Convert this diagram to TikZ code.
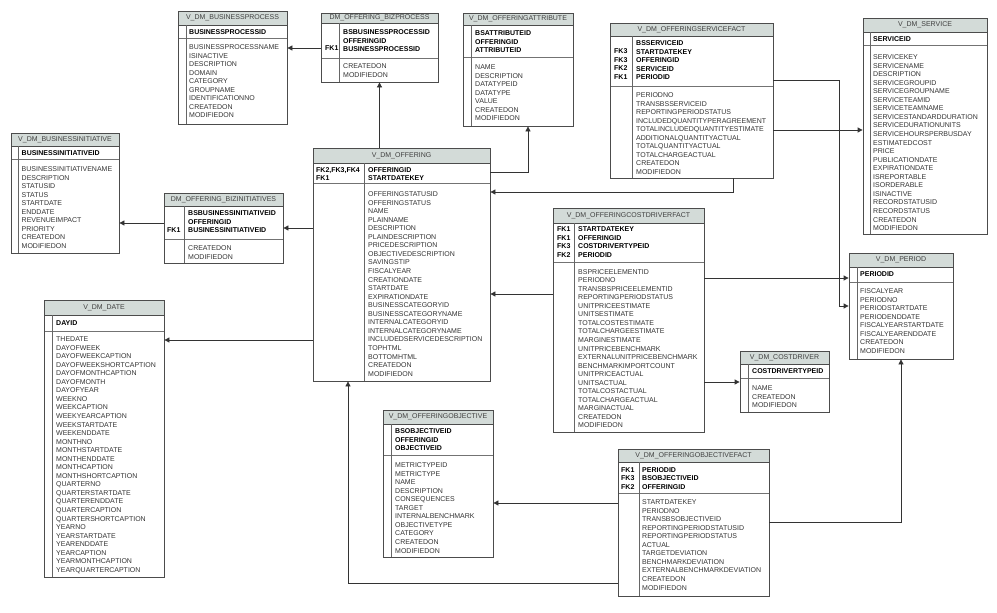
\documentclass[tikz,border=0pt]{standalone}
\usepackage{fontspec}
\setmainfont{Liberation Sans}
\usetikzlibrary{fit,arrows.meta}
\definecolor{hdrgray}{RGB}{211,219,216}

\begin{document}
\begin{tikzpicture}[x=1pt,y=-1pt,
  tablebox/.style={draw=black!70, line width=0.8pt, inner sep=0pt},
  rowline/.style={draw=black!70, line width=0.8pt},
  keyline/.style={draw=black!55, line width=1pt},
  colline/.style={draw=black!60, line width=0.8pt},
  tabletitle/.style={font=\fontsize{7}{8}\selectfont, text=black!75, inner sep=0pt},
  keycol/.style={anchor=north west, align=left, inner sep=0pt, font=\fontsize{7}{8.55}\selectfont\bfseries},
  attrcol/.style={anchor=north west, align=left, inner sep=0pt, font=\fontsize{7}{8.55}\selectfont, text=black!80},
  fk/.style={draw=black!80, line width=0.8pt, -{Triangle[length=5pt,width=5pt]}}
]
\useasboundingbox (0,0) rectangle (997,613);
% One table: name, corners, header bottom, key bottom, column line, title
\def\dmtable#1#2#3#4#5#6#7#8#9{%
  \coordinate (#1-nw) at (#2,#3);
  \coordinate (#1-se) at (#4,#5);
  \fill[hdrgray] (#2,#3) rectangle (#4,#6);
  \draw[rowline] (#2,#6) -- (#4,#6);
  \draw[keyline] (#2,#7) -- (#4,#7);
  \draw[colline] (#8,#6) -- (#8,#5);
  \node[tablebox, fit={(#1-nw) (#1-se)}] (#1) {};
  \node[tabletitle] (#1-t) at ({(#2+#4)/2},{(#3+#6)/2}) {#9};
}

% Draw the tables
\dmtable{bproc}{178}{11}{287}{124}{25}{38}{186}{V\_DM\_BUSINESSPROCESS}
\node[keycol] (bproc-k) at (189,29.5) {BUSINESSPROCESSID};
\node[attrcol] (bproc-a) at (189,44.5) {BUSINESSPROCESSNAME\\ISINACTIVE\\DESCRIPTION\\DOMAIN\\CATEGORY\\GROUPNAME\\IDENTIFICATIONNO\\CREATEDON\\MODIFIEDON};

\dmtable{binit}{11}{133}{119}{253}{146}{159}{18}{V\_DM\_BUSINESSINITIATIVE}
\node[keycol] (binit-k) at (21.5,150.5) {BUSINESSINITIATIVEID};
\node[attrcol] (binit-a) at (21.5,166.5) {BUSINESSINITIATIVENAME\\DESCRIPTION\\STATUSID\\STATUS\\STARTDATE\\ENDDATE\\REVENUEIMPACT\\PRIORITY\\CREATEDON\\MODIFIEDON};

\dmtable{bizinit}{164}{193}{283}{263}{206}{239}{184}{DM\_OFFERING\_BIZINITIATIVES}
\node[keycol] (bizinit-f) at (167,227.5) {FK1};
\node[keycol] (bizinit-k) at (188,210.5) {BSBUSINESSINITIATIVEID\\OFFERINGID\\BUSINESSINITIATIVEID};
\node[attrcol] (bizinit-a) at (188,245.5) {CREATEDON\\MODIFIEDON};

\dmtable{bizproc}{321}{13}{438}{82}{23}{58}{339}{DM\_OFFERING\_BIZPROCESS}
\node[keycol] (bizproc-f) at (325,45.5) {FK1};
\node[keycol] (bizproc-k) at (343,29.5) {BSBUSINESSPROCESSID\\OFFERINGID\\BUSINESSPROCESSID};
\node[attrcol] (bizproc-a) at (343,63.5) {CREATEDON\\MODIFIEDON};

\dmtable{oattr}{463}{13}{573}{126}{25}{57}{471}{V\_DM\_OFFERINGATTRIBUTE}
\node[keycol] (oattr-k) at (475,30.5) {BSATTRIBUTEID\\OFFERINGID\\ATTRIBUTEID};
\node[attrcol] (oattr-a) at (475,64.5) {NAME\\DESCRIPTION\\DATATYPEID\\DATATYPE\\VALUE\\CREATEDON\\MODIFIEDON};

\dmtable{sfact}{610}{23}{773}{178}{36}{86}{632}{V\_DM\_OFFERINGSERVICEFACT}
\node[keycol] (sfact-f) at (614,48.5) {FK3\\FK3\\FK2\\FK1};
\node[keycol] (sfact-k) at (636,40.5) {BSSERVICEID\\STARTDATEKEY\\OFFERINGID\\SERVICEID\\PERIODID};
\node[attrcol] (sfact-a) at (636,92.5) {PERIODNO\\TRANSBSSERVICEID\\REPORTINGPERIODSTATUS\\INCLUDEDQUANTITYPERAGREEMENT\\TOTALINCLUDEDQUANTITYESTIMATE\\ADDITIONALQUANTITYACTUAL\\TOTALQUANTITYACTUAL\\TOTALCHARGEACTUAL\\CREATEDON\\MODIFIEDON};

\dmtable{service}{863}{18}{987}{234}{32}{45}{870}{V\_DM\_SERVICE}
\node[keycol] (service-k) at (873,36.5) {SERVICEID};
\node[attrcol] (service-a) at (873,54.5) {SERVICEKEY\\SERVICENAME\\DESCRIPTION\\SERVICEGROUPID\\SERVICEGROUPNAME\\SERVICETEAMID\\SERVICETEAMNAME\\SERVICESTANDARDDURATION\\SERVICEDURATIONUNITS\\SERVICEHOURSPERBUSDAY\\ESTIMATEDCOST\\PRICE\\PUBLICATIONDATE\\EXPIRATIONDATE\\ISREPORTABLE\\ISORDERABLE\\ISINACTIVE\\RECORDSTATUSID\\RECORDSTATUS\\CREATEDON\\MODIFIEDON};

\dmtable{offering}{313}{148}{490}{381}{163}{183}{364}{V\_DM\_OFFERING}
\node[keycol] (offering-f) at (316,167) {FK2,FK3,FK4\\FK1};
\node[keycol] (offering-k) at (368,167) {OFFERINGID\\STARTDATEKEY};
\node[attrcol] (offering-a) at (368,191.5) {OFFERINGSTATUSID\\OFFERINGSTATUS\\NAME\\PLAINNAME\\DESCRIPTION\\PLAINDESCRIPTION\\PRICEDESCRIPTION\\OBJECTIVEDESCRIPTION\\SAVINGSTIP\\FISCALYEAR\\CREATIONDATE\\STARTDATE\\EXPIRATIONDATE\\BUSINESSCATEGORYID\\BUSINESSCATEGORYNAME\\INTERNALCATEGORYID\\INTERNALCATEGORYNAME\\INCLUDEDSERVICEDESCRIPTION\\TOPHTML\\BOTTOMHTML\\CREATEDON\\MODIFIEDON};

\dmtable{cfact}{553}{208}{704}{432}{223}{262}{574}{V\_DM\_OFFERINGCOSTDRIVERFACT}
\node[keycol] (cfact-f) at (557,226.5) {FK1\\FK1\\FK3\\FK2};
\node[keycol] (cfact-k) at (578,226.5) {STARTDATEKEY\\OFFERINGID\\COSTDRIVERTYPEID\\PERIODID};
\node[attrcol] (cfact-a) at (578,269) {BSPRICEELEMENTID\\PERIODNO\\TRANSBSPRICEELEMENTID\\REPORTINGPERIODSTATUS\\UNITPRICEESTIMATE\\UNITSESTIMATE\\TOTALCOSTESTIMATE\\TOTALCHARGEESTIMATE\\MARGINESTIMATE\\UNITPRICEBENCHMARK\\EXTERNALUNITPRICEBENCHMARK\\BENCHMARKIMPORTCOUNT\\UNITPRICEACTUAL\\UNITSACTUAL\\TOTALCOSTACTUAL\\TOTALCHARGEACTUAL\\MARGINACTUAL\\CREATEDON\\MODIFIEDON};

\dmtable{cdriver}{740}{351}{829}{412}{364}{378}{748}{V\_DM\_COSTDRIVER}
\node[keycol] (cdriver-k) at (752,368.5) {COSTDRIVERTYPEID};
\node[attrcol] (cdriver-a) at (752,385.5) {NAME\\CREATEDON\\MODIFIEDON};

\dmtable{period}{849}{253}{953}{359}{267}{282}{857}{V\_DM\_PERIOD}
\node[keycol] (period-k) at (860,271.5) {PERIODID};
\node[attrcol] (period-a) at (860,288.5) {FISCALYEAR\\PERIODNO\\PERIODSTARTDATE\\PERIODENDDATE\\FISCALYEARSTARTDATE\\FISCALYEARENDDATE\\CREATEDON\\MODIFIEDON};

\dmtable{date}{44}{300}{164}{577}{315}{331}{52}{V\_DM\_DATE}
\node[keycol] (date-k) at (56,320.5) {DAYID};
\node[attrcol] (date-a) at (56,336.5) {THEDATE\\DAYOFWEEK\\DAYOFWEEKCAPTION\\DAYOFWEEKSHORTCAPTION\\DAYOFMONTHCAPTION\\DAYOFMONTH\\DAYOFYEAR\\WEEKNO\\WEEKCAPTION\\WEEKYEARCAPTION\\WEEKSTARTDATE\\WEEKENDDATE\\MONTHNO\\MONTHSTARTDATE\\MONTHENDDATE\\MONTHCAPTION\\MONTHSHORTCAPTION\\QUARTERNO\\QUARTERSTARTDATE\\QUARTERENDDATE\\QUARTERCAPTION\\QUARTERSHORTCAPTION\\YEARNO\\YEARSTARTDATE\\YEARENDDATE\\YEARCAPTION\\YEARMONTHCAPTION\\YEARQUARTERCAPTION};

\dmtable{objective}{383}{410}{493}{557}{424}{455}{391}{V\_DM\_OFFERINGOBJECTIVE}
\node[keycol] (objective-k) at (395,428.5) {BSOBJECTIVEID\\OFFERINGID\\OBJECTIVEID};
\node[attrcol] (objective-a) at (395,462.5) {METRICTYPEID\\METRICTYPE\\NAME\\DESCRIPTION\\CONSEQUENCES\\TARGET\\INTERNALBENCHMARK\\OBJECTIVETYPE\\CATEGORY\\CREATEDON\\MODIFIEDON};

\dmtable{ofact}{618}{449}{769}{596}{462}{493}{639}{V\_DM\_OFFERINGOBJECTIVEFACT}
\node[keycol] (ofact-f) at (621,467) {FK1\\FK3\\FK2};
\node[keycol] (ofact-k) at (642,467) {PERIODID\\BSOBJECTIVEID\\OFFERINGID};
\node[attrcol] (ofact-a) at (642,499.5) {STARTDATEKEY\\PERIODNO\\TRANSBSOBJECTIVEID\\REPORTINGPERIODSTATUSID\\REPORTINGPERIODSTATUS\\ACTUAL\\TARGETDEVIATION\\BENCHMARKDEVIATION\\EXTERNALBENCHMARKDEVIATION\\CREATEDON\\MODIFIEDON};

% Foreign key links
\draw[fk] (bizproc.west |- 0,48) -- (bproc.east |- 0,48);
\draw[fk] (offering.north -| bizproc.south) -- (bizproc.south);
\draw[fk] (offering.east |- 0,172) -| (oattr.south -| 528,0);
\draw[fk] (offering.west |- 0,228) -- (bizinit.east |- 0,228);
\draw[fk] (bizinit.west |- 0,223) -- (binit.east |- 0,223);
\draw[fk] (offering.west |- 0,340) -- (date.east |- 0,340);
\draw[fk] (sfact.south -| 733,0) |- (offering.east |- 0,192);
\draw[fk] (sfact.east |- 0,130) -- (service.west |- 0,130);
\draw[fk] (sfact.east |- 0,80) -- (839,80) |- (period.west |- 0,306);
\draw[fk] (cfact.east |- 0,278) -- (period.west |- 0,278);
\draw[fk] (cfact.west |- 0,294) -- (offering.east |- 0,294);
\draw[fk] (cfact.east |- 0,382) -- (cdriver.west |- 0,382);
\draw[fk] (ofact.east |- 0,522) -| (period.south);
\draw[fk] (ofact.west |- 0,503) -- (objective.east |- 0,503);
\draw[fk] (ofact.west |- 0,583) -| (offering.south -| 348,0);
\end{tikzpicture}
\end{document}
